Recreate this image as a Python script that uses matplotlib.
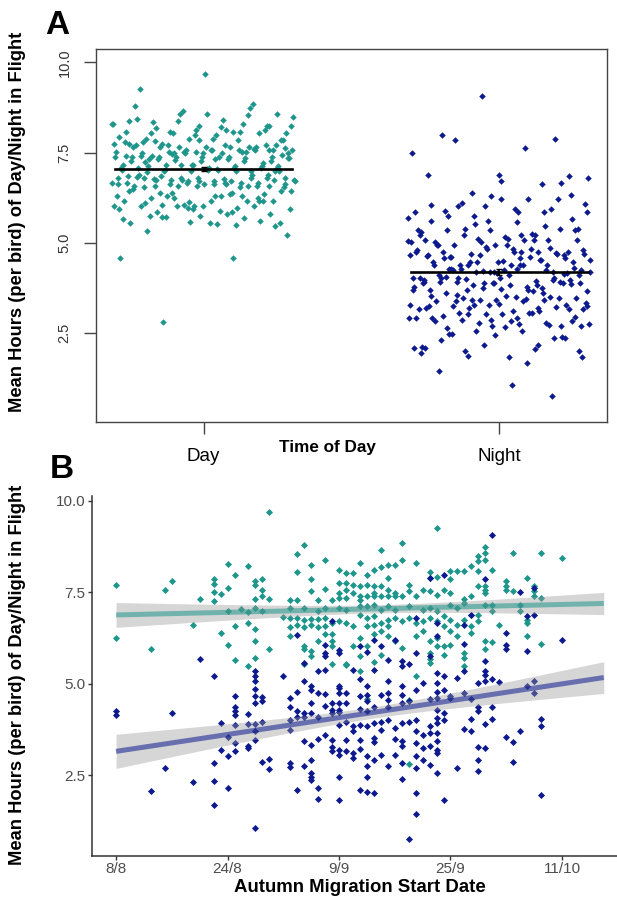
import numpy as np
import matplotlib
matplotlib.use('Agg')
import matplotlib.pyplot as plt

# (days after 8 Aug, mean hours in flight) per bird
day_birds = [
    (16, 8.28), (0, 7.71), (8, 7.82), (7, 7.57), (14, 7.86), (14, 7.74), (14, 7.51), (15, 7.46),
    (16, 7.63), (12, 7.32), (14, 7.25), (0, 6.25), (5, 5.96), (11, 6.62), (15, 6.39), (16, 6.05),
    (16, 7.0),
    (22, 9.68), (27, 8.78), (26, 8.55), (30, 8.38), (28, 8.25), (19, 8.21), (26, 8.05), (32, 8.12),
    (17, 7.98), (20, 7.80), (21, 7.85), (20, 7.71), (28, 7.86), (21, 7.57), (21, 7.41), (30, 7.60),
    (28, 7.53), (32, 7.75), (20, 7.32), (22, 7.32), (25, 7.28), (26, 7.28), (29, 7.28), (31, 7.28),
    (32, 7.48), (32, 7.35), (18, 7.05), (19, 6.95), (20, 7.08), (21, 7.0), (25, 7.08), (27, 7.08),
    (29, 7.0), (30, 7.08), (32, 7.06), (24, 6.83), (25, 6.80), (26, 6.80), (27, 6.75), (28, 6.77),
    (29, 6.77), (30, 6.80), (17, 6.57), (19, 6.66), (25, 6.55), (26, 6.62), (27, 6.55), (28, 6.62),
    (29, 6.55), (30, 6.57), (31, 6.66), (25, 6.30), (30, 6.35), (31, 6.37), (31, 6.16), (31, 6.03),
    (20, 6.50), (20, 6.16), (27, 6.03), (27, 5.94), (28, 5.89), (28, 5.75), (29, 6.16), (22, 5.94),
    (17, 5.65), (19, 5.50), (20, 5.71), (31, 5.55), (27, 5.55),
    (46, 9.25), (41, 8.86), (38, 8.66), (35, 8.30), (37, 8.12), (38, 8.19), (39, 8.25), (40, 8.25),
    (41, 8.37), (43, 8.30), (33, 8.03), (34, 8.03), (36, 7.98), (39, 7.89), (45, 8.05), (45, 7.89),
    (46, 7.92), (48, 8.07), (33, 7.75), (34, 7.71), (35, 7.66), (36, 7.71), (37, 7.66), (38, 7.66),
    (39, 7.57), (40, 7.48), (41, 7.41), (42, 7.71), (42, 7.53), (43, 7.41), (44, 7.57), (45, 7.53),
    (46, 7.44), (47, 7.57), (48, 7.48), (33, 7.57), (34, 7.48), (35, 7.39), (36, 7.39), (37, 7.39),
    (38, 7.39), (39, 7.39), (40, 7.39), (33, 7.35), (35, 7.30), (37, 7.48), (33, 7.03), (35, 7.12),
    (36, 7.12), (37, 7.16), (38, 7.03), (39, 7.12), (40, 7.03), (42, 7.12), (44, 7.03), (45, 7.07),
    (46, 6.98), (48, 7.16), (32, 6.71), (33, 6.66), (34, 6.57), (35, 6.89), (36, 6.80), (37, 6.85),
    (38, 6.66), (39, 6.75), (40, 6.80), (41, 6.71), (42, 6.80), (43, 6.66), (44, 6.71), (45, 6.80),
    (46, 6.71), (47, 6.85), (48, 6.75), (37, 6.62), (36, 6.57), (39, 6.57), (47, 6.57), (38, 6.44),
    (39, 6.30), (35, 6.25), (37, 6.35), (36, 6.03), (40, 6.16), (41, 5.98), (43, 6.30), (44, 6.44),
    (45, 6.16), (46, 6.03), (47, 6.03), (48, 6.05), (34, 6.03), (38, 5.80), (45, 5.85), (47, 5.80),
    (35, 5.75), (33, 5.55), (45, 5.68), (46, 6.25), (43, 5.21), (33, 5.52), (35, 5.34), (37, 5.61),
    (45, 5.58), (36, 4.58), (42, 4.57), (42, 2.81),
    (57, 8.57), (61, 8.57), (64, 8.44), (53, 8.74), (53, 8.57), (52, 8.48), (53, 8.39), (52, 8.35),
    (51, 8.23), (54, 8.12), (52, 8.07), (50, 8.07), (49, 8.07), (48, 7.85), (59, 7.89), (56, 7.80),
    (56, 7.66), (56, 7.57), (57, 7.53), (52, 7.66), (53, 7.66), (53, 7.57), (53, 7.48), (60, 7.66),
    (60, 7.53), (60, 7.39), (61, 7.35), (51, 7.39), (50, 7.32), (50, 7.21), (53, 7.16), (54, 7.16),
    (54, 6.98), (58, 7.16), (58, 6.98), (49, 7.07), (51, 6.89), (52, 6.89), (59, 6.75), (59, 6.66),
    (49, 6.62), (50, 6.75), (51, 6.57), (52, 6.71), (48, 6.44), (49, 6.30), (51, 6.39), (55, 6.62),
    (59, 6.30), (61, 6.10), (53, 6.16), (54, 6.14), (53, 5.95), (50, 5.85), (50, 5.71), (50, 5.48),
]

night_birds = [
    (12, 5.69), (14, 5.21), (0, 4.27), (0, 4.14), (8, 4.20), (15, 3.93), (15, 3.20), (16, 3.04),
    (7, 2.69), (14, 2.84), (11, 2.31), (14, 2.36), (16, 2.17), (5, 2.08), (14, 1.68), (16, 3.55),
    (26, 6.33), (31, 6.71), (30, 6.05), (30, 5.85), (30, 5.75), (32, 5.85), (27, 5.57), (29, 5.35),
    (30, 5.39), (20, 5.35), (20, 5.21), (20, 5.07), (24, 5.21), (27, 5.07), (32, 4.94), (28, 4.94),
    (20, 4.86), (20, 4.66), (17, 4.67), (17, 4.38), (17, 4.25), (17, 4.16), (19, 4.17), (21, 4.64),
    (21, 4.52), (20, 4.47), (26, 4.79), (28, 4.82), (29, 4.75), (30, 4.73), (32, 4.88), (32, 4.75),
    (25, 4.61), (25, 4.38), (28, 4.48), (31, 4.49), (32, 4.47), (26, 4.25), (27, 4.20), (28, 4.20),
    (30, 4.40), (31, 4.29), (17, 3.88), (19, 3.90), (20, 3.90), (21, 3.95), (25, 4.00), (26, 4.10),
    (27, 4.10), (29, 4.10), (31, 4.20), (32, 4.22), (20, 3.70), (20, 3.46), (17, 3.38), (17, 3.16),
    (19, 3.31), (19, 3.25), (25, 3.75), (27, 3.43), (28, 3.34), (29, 3.49), (30, 3.61), (31, 3.47),
    (31, 3.27), (31, 3.16), (32, 3.07), (21, 2.86), (22, 2.96), (22, 2.67), (25, 2.84), (25, 2.73),
    (27, 2.77), (28, 2.93), (28, 2.57), (28, 2.47), (28, 2.37), (32, 2.46), (26, 2.09), (29, 2.17),
    (29, 1.86), (32, 1.84), (20, 1.07),
    (47, 7.98), (45, 7.89), (35, 6.03), (36, 5.86), (37, 6.21), (38, 6.03), (39, 5.66), (40, 6.21),
    (41, 5.62), (41, 5.48), (42, 5.53), (43, 6.80), (43, 5.85), (45, 5.75), (46, 6.66), (46, 6.30),
    (46, 5.30), (47, 5.21), (37, 5.39), (34, 5.39), (35, 5.12), (36, 4.94), (32, 5.93), (46, 5.03),
    (44, 5.03), (39, 5.07), (41, 4.94), (33, 4.75), (33, 4.47), (35, 4.66), (36, 4.52), (36, 4.70),
    (38, 4.70), (39, 4.75), (39, 4.57), (41, 4.70), (43, 4.84), (46, 4.79), (47, 4.84), (32, 4.29),
    (35, 4.31), (36, 4.25), (37, 4.38), (39, 4.38), (41, 4.47), (42, 4.52), (45, 4.58), (46, 4.61),
    (48, 4.66), (32, 3.88), (33, 3.97), (34, 3.84), (34, 3.70), (35, 3.88), (36, 3.84), (37, 3.93),
    (38, 3.97), (38, 3.75), (39, 4.02), (40, 3.79), (41, 3.93), (42, 3.97), (43, 4.02), (43, 3.70),
    (44, 3.61), (45, 3.84), (45, 3.67), (46, 4.29), (46, 4.06), (46, 3.93), (47, 4.20), (47, 4.02),
    (46, 3.66), (33, 3.47), (35, 3.47), (37, 3.52), (37, 3.40), (40, 3.49), (41, 3.43), (41, 3.29),
    (43, 3.38), (44, 3.25), (45, 3.29), (46, 3.43), (46, 3.20), (46, 3.11), (32, 3.20), (33, 3.16),
    (34, 3.11), (34, 2.97), (35, 3.22), (36, 3.02), (37, 2.93), (38, 3.07), (40, 3.07), (41, 2.84),
    (43, 3.02), (44, 2.93), (45, 2.79), (46, 2.57), (36, 2.75), (39, 2.75), (36, 2.47), (41, 2.40),
    (43, 2.70), (35, 2.11), (36, 2.06), (37, 2.02), (43, 2.02), (47, 1.84), (43, 1.45), (42, 0.77),
    (54, 9.07), (58, 7.50), (60, 7.62), (53, 7.85), (59, 6.85), (60, 6.89), (51, 6.89), (50, 6.62),
    (56, 6.39), (56, 6.07), (56, 5.95), (59, 5.89), (64, 6.21), (53, 5.62), (53, 5.35), (53, 5.25),
    (50, 6.10), (50, 5.35), (49, 5.16), (52, 5.03), (53, 5.07), (54, 5.12), (55, 5.05),
    (50, 4.75), (48, 4.61), (51, 4.58), (59, 4.93), (60, 5.07), (60, 4.75), (52, 4.38), (52, 4.25),
    (54, 4.38), (51, 4.04), (54, 4.04), (53, 3.90), (50, 3.77), (51, 3.70), (61, 4.04), (61, 3.86),
    (58, 3.72), (56, 3.54), (57, 3.41), (52, 3.27), (53, 3.24), (52, 2.91), (52, 2.63), (49, 2.70),
    (57, 2.86), (61, 1.96),
]

groups = ['Day', 'Night']
date_ticks = [0, 16, 32, 48, 64]
date_labels = ['8/8', '24/8', '9/9', '25/9', '11/10']
fit_range = (0, 70)

DAY_COL = '#1f968b'
NIGHT_COL = '#0c1a8e'
W, H = 617, 898
YLAB = 'Mean Hours (per bird) of Day/Night in Flight'

day = np.array(day_birds, dtype=float)
night = np.array(night_birds, dtype=float)

plt.rcParams['font.family'] = ['Liberation Sans', 'DejaVu Sans']
fig = plt.figure(figsize=(W / 100, H / 100), dpi=100)

def fig_rect(l, t, r, b):
    return [l / W, 1 - b / H, (r - l) / W, (b - t) / H]

# ---------- panel A ----------
axa = fig.add_axes(fig_rect(96, 49, 607, 422))
for i, (pts, col) in enumerate(zip([day, night], [DAY_COL, NIGHT_COL])):
    n = len(pts)
    jit = ((np.arange(n) * 0.6180339887) % 1 - 0.5) * 0.62
    axa.scatter(i + 1 + jit, pts[:, 1], marker='D', s=11, color=col, linewidths=0, zorder=2)
    m = pts[:, 1].mean()
    se = pts[:, 1].std(ddof=1) / np.sqrt(n)
    axa.plot([i + 0.7, i + 1.3], [m, m], color='black', lw=1.9, zorder=3)
    axa.errorbar(i + 1, m, yerr=se, color='black', lw=1.5, capsize=2.5, zorder=3)

axa.set_xlim(0.636, 2.364)
axa.set_ylim(0.04, 10.37)
axa.set_xticks([1, 2])
axa.set_xticklabels(groups, fontsize=13.5)
axa.set_yticks([2.5, 5.0, 7.5, 10.0])
axa.set_yticklabels(['2.5', '5.0', '7.5', '10.0'], rotation=90, va='center', fontsize=10.5, color='#333333')
axa.tick_params(axis='x', length=8.5, width=1, color='#444444', pad=10)
axa.tick_params(axis='y', length=8.5, width=1, color='#444444', pad=9)
for sp in axa.spines.values():
    sp.set_color('#444444')
    sp.set_linewidth(1.0)

fig.text(327 / W, 1 - 447 / H, 'Time of Day', ha='center', va='center', fontsize=12.3, fontweight='bold')
fig.text(18 / W, 1 - 222 / H, YLAB, rotation=90, ha='center', va='center', fontsize=13.2, fontweight='bold')
fig.text(57 / W, 1 - 25 / H, 'A', ha='center', va='center', fontsize=24, fontweight='bold')

# ---------- panel B ----------
axb = fig.add_axes(fig_rect(91.7, 496, 617, 856))
axb.scatter(day[:, 0], day[:, 1], marker='D', s=13, color=DAY_COL, linewidths=0, zorder=2)
axb.scatter(night[:, 0], night[:, 1], marker='D', s=13, color=NIGHT_COL, linewidths=0, zorder=2)

xs = np.linspace(fit_range[0], fit_range[1], 100)
for pts, col in [(day, DAY_COL), (night, NIGHT_COL)]:
    x, y = pts[:, 0], pts[:, 1]
    b1, b0 = np.polyfit(x, y, 1)
    resid = y - (b0 + b1 * x)
    s = np.sqrt((resid ** 2).sum() / (len(x) - 2))
    sxx = ((x - x.mean()) ** 2).sum()
    se = s * np.sqrt(1 / len(x) + (xs - x.mean()) ** 2 / sxx)
    fit = b0 + b1 * xs
    axb.fill_between(xs, fit - 1.97 * se, fit + 1.97 * se, color='#999999', alpha=0.4, lw=0, zorder=3)
    axb.plot(xs, fit, color=col, alpha=0.55, lw=3.6, zorder=4, solid_capstyle='butt')

axb.set_xlim(-3.5, 71.9)
axb.set_ylim(0.3, 10.13)
axb.set_xticks(date_ticks)
axb.set_xticklabels(date_labels)
axb.set_yticks([2.5, 5.0, 7.5, 10.0])
axb.set_yticklabels(['2.5', '5.0', '7.5', '10.0'])
axb.tick_params(length=3, width=1, color='#333333', labelcolor='#4d4d4d', labelsize=11, pad=1.5)
for side in ['top', 'right']:
    axb.spines[side].set_visible(False)
for side in ['left', 'bottom']:
    axb.spines[side].set_color('#333333')
    axb.spines[side].set_linewidth(1.1)

fig.text(360 / W, 1 - 888 / H, 'Autumn Migration Start Date', ha='center', va='center',
         fontsize=13.4, fontweight='bold')
fig.text(18 / W, 1 - 675 / H, YLAB, rotation=90, ha='center', va='center', fontsize=13.2, fontweight='bold')
fig.text(62 / W, 1 - 469 / H, 'B', ha='center', va='center', fontsize=24, fontweight='bold')

fig.savefig('out.png', dpi=100)
